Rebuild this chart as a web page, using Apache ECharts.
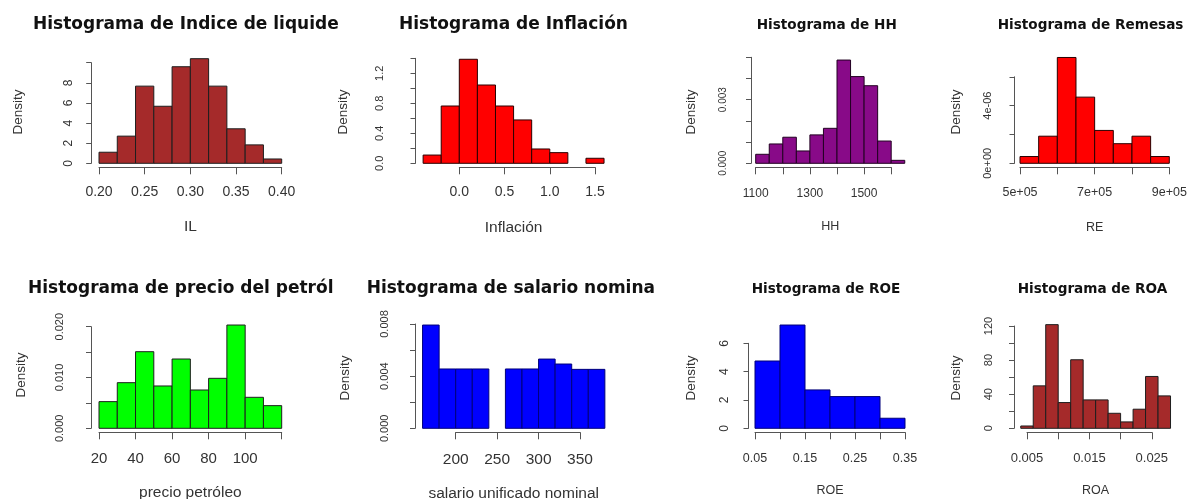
<!DOCTYPE html>
<html><head><meta charset="utf-8">
<script src="https://cdn.jsdelivr.net/npm/echarts@6/dist/echarts.min.js"></script>
<style>html,body{margin:0;padding:0;background:#fff}#c{width:1191px;height:499px}</style>
</head><body><div id="c"></div><script>
// ---------- DATA ----------
const titles = ['Histograma de Indice de liquidez','Histograma de Inflación','Histograma de HH','Histograma de Remesas',
  'Histograma de precio del petróleo','Histograma de salario nominal','Histograma de ROE','Histograma de ROA'];
const xNames = ['IL','Inflación','HH','RE','precio petróleo','salario unificado nominal','ROE','ROA'];

const il_breaks = [0.20,0.22,0.24,0.26,0.28,0.30,0.32,0.34,0.36,0.38,0.40];
const il_density = [1.1,2.7,7.67,5.67,9.6,10.4,7.67,3.43,1.83,0.43];
const il_xTicks = [0.20,0.25,0.30,0.35,0.40];
const il_xLabels = ['0.20','0.25','0.30','0.35','0.40'];
const il_yTicks = [0,2,4,6,8,10];
const il_yLabels = ['0','2','4','6','8',''];

const inf_breaks = [-0.4,-0.2,0,0.2,0.4,0.6,0.8,1.0,1.2,1.4,1.6];
const inf_density = [0.11,0.764,1.387,1.044,0.764,0.578,0.191,0.142,0,0.067];
const inf_xTicks = [0,0.5,1.0,1.5];
const inf_xLabels = ['0.0','0.5','1.0','1.5'];
const inf_yTicks = [0,0.2,0.4,0.6,0.8,1.0,1.2,1.4];
const inf_yLabels = ['0.0','','0.4','','0.8','','1.2',''];

const hh_breaks = [1100,1150,1200,1250,1300,1350,1400,1450,1500,1550,1600,1650];
const hh_density = [0.000425,0.000912,0.00123,0.000582,0.00134,0.00165,0.00487,0.00409,0.00366,0.00105,0.00014];
const hh_xTicks = [1100,1200,1300,1400,1500,1600];
const hh_xLabels = ['1100','','1300','','1500',''];
const hh_yTicks = [0,0.001,0.002,0.003,0.004,0.005];
const hh_yLabels = ['0.000','','','0.003','',''];

const re_breaks = [500000,550000,600000,650000,700000,750000,800000,850000,900000];
const re_density = [0.47e-6,1.88e-6,7.34e-6,4.59e-6,2.28e-6,1.36e-6,1.88e-6,0.47e-6];
const re_xTicks = [500000,600000,700000,800000,900000];
const re_xLabels = ['5e+05','','7e+05','','9e+05'];
const re_yTicks = [0,2e-6,4e-6,6e-6];
const re_yLabels = ['0e+00','','4e-06',''];

const pp_breaks = [20,30,40,50,60,70,80,90,100,110,120];
const pp_density = [0.00525,0.00898,0.01508,0.00833,0.01364,0.00754,0.00984,0.02033,0.0061,0.00446];
const pp_xTicks = [20,40,60,80,100,120];
const pp_xLabels = ['20','40','60','80','100',''];
const pp_yTicks = [0,0.005,0.010,0.015,0.020];
const pp_yLabels = ['0.000','','0.010','','0.020'];

const sal_breaks = [160,180,200,220,240,260,280,300,320,340,360,380];
const sal_density = [0.00792,0.00455,0.00455,0.00455,0,0.00455,0.00455,0.00531,0.00493,0.00452,0.00452];
const sal_xTicks = [200,250,300,350];
const sal_xLabels = ['200','250','300','350'];
const sal_yTicks = [0,0.002,0.004,0.006,0.008];
const sal_yLabels = ['0.000','','0.004','','0.008'];

const roe_breaks = [0.05,0.10,0.15,0.20,0.25,0.30,0.35];
const roe_density = [4.75,7.29,2.71,2.24,2.24,0.71];
const roe_xTicks = [0.05,0.10,0.15,0.20,0.25,0.30,0.35];
const roe_xLabels = ['0.05','','0.15','','0.25','','0.35'];
const roe_yTicks = [0,2,4,6];
const roe_yLabels = ['0','2','4','6'];

const roa_breaks = [0.004,0.006,0.008,0.010,0.012,0.014,0.016,0.018,0.020,0.022,0.024,0.026,0.028];
const roa_density = [2.7,49.8,121.6,30.2,80.4,33.3,33.3,17.6,7.5,22.4,60.8,38];
const roa_xTicks = [0.005,0.010,0.015,0.020,0.025];
const roa_xLabels = ['0.005','','0.015','','0.025'];
const roa_yTicks = [0,20,40,60,80,100,120];
const roa_yLabels = ['0','','40','','80','','120'];

// ---------- LAYOUT / STYLE ----------
const panels = [
  {b:il_breaks, d:il_density, xt:il_xTicks, xl:il_xLabels, yt:il_yTicks, yl:il_yLabels},
  {b:inf_breaks, d:inf_density, xt:inf_xTicks, xl:inf_xLabels, yt:inf_yTicks, yl:inf_yLabels},
  {b:hh_breaks, d:hh_density, xt:hh_xTicks, xl:hh_xLabels, yt:hh_yTicks, yl:hh_yLabels},
  {b:re_breaks, d:re_density, xt:re_xTicks, xl:re_xLabels, yt:re_yTicks, yl:re_yLabels},
  {b:pp_breaks, d:pp_density, xt:pp_xTicks, xl:pp_xLabels, yt:pp_yTicks, yl:pp_yLabels},
  {b:sal_breaks, d:sal_density, xt:sal_xTicks, xl:sal_xLabels, yt:sal_yTicks, yl:sal_yLabels},
  {b:roe_breaks, d:roe_density, xt:roe_xTicks, xl:roe_xLabels, yt:roe_yTicks, yl:roe_yLabels},
  {b:roa_breaks, d:roa_density, xt:roa_xTicks, xl:roa_xLabels, yt:roa_yTicks, yl:roa_yLabels}
];
const L = [
  {x0:99,   x1:281.7,  y0:163.3, y1:62.7, axX:91.2,  fill:'#a52a2a', stroke:'#1e1e1e', tx:33,    ty:25,  ts:17,   tw:308, xf:14,   xm:18, yf:12,  ym:17,   nf:15.5, ny:227,  dx:18,    dy:112},
  {x0:459.3,x1:595,    y0:163.3, y1:58.3, axX:415.5, fill:'#ff0000', stroke:'#2a0000', tx:399,   ty:25,  ts:17,   tw:0,   xf:14,   xm:18, yf:11,  ym:30,   nf:15.5, ny:228,  dx:343,   dy:112},
  {x0:755.7,x1:891.2,  y0:163.3, y1:57.3, axX:751,   fill:'#880a88', stroke:'#220022', tx:756.7, ty:25,  ts:13.6, tw:0,   xf:12,   xm:20, yf:10,  ym:23,   nf:12.5, ny:227,  dx:691.7, dy:112},
  {x0:1020, x1:1169.3, y0:163.3, y1:76.8, axX:1014.5,fill:'#ff0000', stroke:'#2a0000', tx:997.7, ty:25,  ts:13.6, tw:0,   xf:12.5, xm:19, yf:11,  ym:21,   nf:12.5, ny:228,  dx:956,   dy:112},
  {x0:99,   x1:281.7,  y0:428.3, y1:326.7,axX:91,    fill:'#00ff00', stroke:'#1e1e1e', tx:28,    ty:288.5,ts:17,  tw:314, xf:15,   xm:19, yf:11,  ym:25.5, nf:15.5, ny:492.7,dx:21.7,  dy:375},
  {x0:455.7,x1:580,    y0:428.3, y1:324,  axX:415,   fill:'#0000ff', stroke:'#00007a', tx:366.7, ty:289, ts:17,   tw:290, xf:15.5, xm:19, yf:11,  ym:24.5, nf:15.5, ny:493.3,dx:345,   dy:378},
  {x0:755,  x1:905,    y0:428.3, y1:343.3,axX:748.5, fill:'#0000ff', stroke:'#00007a', tx:751.7, ty:289, ts:13.6, tw:0,   xf:12.5, xm:20, yf:12,  ym:17.5, nf:12.5, ny:490.7,dx:691.7, dy:378},
  {x0:1027, x1:1151.8, y0:428.3, y1:326,  axX:1014,  fill:'#a52a2a', stroke:'#1e1e1e', tx:1017.7,ty:289, ts:13.6, tw:0,   xf:13,   xm:20, yf:11,  ym:19.5, nf:12.5, ny:490.7,dx:956,   dy:378}
];
const AX = '#555', TXT = '#333', SANS = 'Liberation Sans', TFONT = 'DejaVu Sans';

function labelFor(ticks, labels) {
  return function (v) {
    let best = 0, bd = Infinity;
    ticks.forEach((t, i) => { const dd = Math.abs(t - v); if (dd < bd) { bd = dd; best = i; } });
    return labels[best];
  };
}
const step = a => +((a[1] - a[0]).toPrecision(10));

const grid = [], xAxis = [], yAxis = [], series = [], title = [], graphic = [];
panels.forEach((p, i) => {
  const l = L[i];
  grid.push({left: l.x0, top: l.y1, width: l.x1 - l.x0, height: l.y0 - l.y1, containLabel: false});
  xAxis.push({
    gridIndex: i, type: 'value', min: p.xt[0], max: p.xt[p.xt.length - 1], interval: step(p.xt),
    offset: 4, position: 'bottom',
    axisLine: {show: true, onZero: false, lineStyle: {color: AX, width: 1}},
    axisTick: {show: true, length: 7, lineStyle: {color: AX, width: 1}},
    axisLabel: {show: true, fontFamily: SANS, fontSize: l.xf, color: TXT, margin: l.xm, formatter: labelFor(p.xt, p.xl), showMinLabel: true, showMaxLabel: true},
    splitLine: {show: false}
  });
  yAxis.push({
    gridIndex: i, type: 'value', min: 0, max: p.yt[p.yt.length - 1], interval: step(p.yt),
    offset: l.x0 - l.axX, position: 'left',
    axisLine: {show: true, onZero: false, lineStyle: {color: AX, width: 1}},
    axisTick: {show: true, length: 5, lineStyle: {color: AX, width: 1}},
    axisLabel: {show: true, rotate: 90, fontFamily: SANS, fontSize: l.yf, color: TXT, margin: l.ym, formatter: labelFor(p.yt, p.yl), showMinLabel: true, showMaxLabel: true},
    splitLine: {show: false}
  });
  const data = [];
  for (let k = 0; k < p.d.length; k++) data.push([p.b[k], p.b[k + 1], p.d[k]]);
  series.push({
    type: 'custom', xAxisIndex: i, yAxisIndex: i, clip: false, data: data,
    encode: {x: [0, 1], y: 2},
    renderItem: function (params, api) {
      const h = api.value(2);
      if (!(h > 0)) return null;
      const a = api.coord([api.value(0), 0]);
      const b = api.coord([api.value(1), h]);
      return {type: 'rect', shape: {x: a[0], y: b[1], width: b[0] - a[0], height: a[1] - b[1]},
        style: {fill: l.fill, stroke: l.stroke, lineWidth: 1}};
    }
  });
  const lh = Math.round(l.ts * 1.2);
  const ts = {fontFamily: TFONT, fontWeight: 'bold', fontSize: l.ts, color: '#111', lineHeight: lh};
  if (l.tw) { ts.width = l.tw; ts.overflow = 'truncate'; ts.ellipsis = ''; }
  title.push({text: titles[i], left: l.tx, top: l.ty - lh / 2, padding: 0, textStyle: ts});
  // axis title centred under the range of the bins
  const bMin = p.b[0], bMax = p.b[p.b.length - 1];
  const xa = p.xt[0], xb = p.xt[p.xt.length - 1];
  const mid = (bMin + bMax) / 2;
  const cx = l.x0 + (mid - xa) / (xb - xa) * (l.x1 - l.x0);
  graphic.push({type: 'text', x: cx, y: l.ny, style: {text: xNames[i], font: l.nf + 'px "' + SANS + '"', fill: TXT, textAlign: 'center', textVerticalAlign: 'middle'}});
  graphic.push({type: 'text', x: l.dx, y: l.dy, rotation: Math.PI / 2, style: {text: 'Density', font: '13.5px "' + SANS + '"', fill: TXT, textAlign: 'center', textVerticalAlign: 'middle'}});
});

const chart = echarts.init(document.getElementById('c'), null, {renderer: 'canvas'});
chart.setOption({animation: false, backgroundColor: '#ffffff', title, grid, xAxis, yAxis, series, graphic});
</script></body></html>
